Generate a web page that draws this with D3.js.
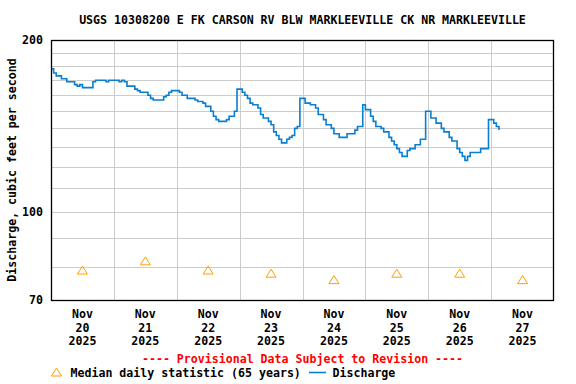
<!DOCTYPE html>
<html>
<head>
<meta charset="utf-8">
<script src="https://cdn.jsdelivr.net/npm/d3@7"></script>
<style>
  body { margin: 0; background: #fff; }
  svg text { font-family: "DejaVu Sans Mono", monospace; font-weight: bold; font-size: 11.6px; }
</style>
</head>
<body>
<svg id="chart" width="576" height="384"></svg>
<script>
//chart data
const TITLE = "USGS 10308200 E FK CARSON RV BLW MARKLEEVILLE CK NR MARKLEEVILLE"
const dayLabels = ["20", "21", "22", "23", "24", "25", "26", "27"]
const yTickValues = [70, 100, 200]
const yGridValues = [80, 90, 100, 110, 120, 130, 140, 150, 160, 170, 180, 190]

//median daily statistic, one per day (noon)
const medianDays = ["2025-11-20", "2025-11-21", "2025-11-22", "2025-11-23", "2025-11-24", "2025-11-25", "2025-11-26", "2025-11-27"]
const medianValues = [79, 82, 79, 78, 76, 78, 78, 76]

//discharge, hourly readings from Nov 20 00:00
const dischargeStart = "2025-11-20T00:00"
const dischargeValues = [
  178, 175, 173, 173, 171, 171, 169, 169, 169, 167, 166, 167,
  165, 165, 165, 165, 169, 170, 170, 170, 170, 169, 170, 170,
  170, 170, 169, 170, 169, 166, 166, 166, 164, 163, 162, 162,
  162, 160, 158, 157, 157, 157, 157, 159, 160, 162, 163, 163,
  163, 162, 160, 160, 158, 158, 158, 157, 156, 156, 155, 153,
  153, 150, 147, 145, 144, 144, 144, 145, 147, 147, 150, 164,
  164, 162, 160, 158, 155, 154, 154, 152, 148, 146, 146, 144,
  142, 138, 136, 134, 132, 132, 134, 135, 136, 140, 141, 158,
  158, 155, 155, 154, 154, 152, 148, 148, 145, 142, 142, 140,
  137, 137, 135, 135, 135, 137, 137, 137, 139, 141, 141, 154,
  151, 151, 147, 144, 141, 141, 140, 138, 138, 135, 133, 131,
  129, 127, 125, 125, 128, 129, 129, 131, 131, 134, 134, 150,
  150, 146, 146, 143, 143, 140, 138, 138, 135, 133, 133, 129,
  127, 125, 123, 125, 127, 127, 127, 127, 129, 129, 129, 145,
  145, 143, 141, 139
]

const parseTime = d3.utcParse("%Y-%m-%dT%H:%M")
const parseDay = d3.utcParse("%Y-%m-%d")

const margin = {left: 51, right: 22, top: 40, bottom: 84}
const W = 576, H = 384
const plotW = W - margin.left - margin.right
const plotH = H - margin.top - margin.bottom

const svg = d3.select("#chart")

const x = d3.scaleUtc()
  .domain([parseDay("2025-11-20"), parseDay("2025-11-28")])
  .range([margin.left, margin.left + plotW])

const y = d3.scaleLog()
  .domain([70, 200])
  .range([margin.top + plotH, margin.top])

//build discharge points
const t0 = parseTime(dischargeStart)
const discharge = dischargeValues.map((v, i) => ({t: d3.utcHour.offset(t0, i), v: v}))
const medians = medianDays.map((d, i) => ({t: d3.utcHour.offset(parseDay(d), 12), v: medianValues[i]}))

//title
svg.append("text").attr("x", margin.left + plotW / 2).attr("y", 24)
  .attr("text-anchor", "middle").text(TITLE)

//grid
const grid = svg.append("g").attr("stroke", "#cccccc").attr("stroke-width", 1)
grid.selectAll("line.h").data(yGridValues).enter().append("line")
  .attr("x1", margin.left).attr("x2", margin.left + plotW)
  .attr("y1", d => Math.round(y(d)) + 0.5).attr("y2", d => Math.round(y(d)) + 0.5)
grid.selectAll("line.v").data(x.ticks(d3.utcDay.every(1)).slice(1, -1)).enter().append("line")
  .attr("x1", d => Math.round(x(d)) + 0.5).attr("x2", d => Math.round(x(d)) + 0.5)
  .attr("y1", margin.top).attr("y2", margin.top + plotH)

//discharge line
const line = d3.line().x(d => x(d.t)).y(d => y(d.v)).curve(d3.curveStepAfter)
svg.append("path").datum(discharge)
  .attr("fill", "none").attr("stroke", "#0a7fd0").attr("stroke-width", 1.6)
  .attr("d", line)

//median triangles
const tri = "M-5,4L0,-4L5,4Z"
svg.selectAll("path.med").data(medians).enter().append("path")
  .attr("class", "med")
  .attr("transform", d => `translate(${x(d.t)},${y(d.v)})`)
  .attr("d", tri).attr("fill", "none").attr("stroke", "#ffa000").attr("stroke-width", 1)

//frame
svg.append("rect").attr("x", margin.left + 0.5).attr("y", margin.top + 0.5)
  .attr("width", plotW - 1).attr("height", plotH)
  .attr("fill", "none").attr("stroke", "#000").attr("stroke-width", 1.3)

//y labels
svg.selectAll("text.ytick").data(yTickValues).enter().append("text")
  .attr("x", 43).attr("y", d => y(d) + 4)
  .attr("text-anchor", "end").text(d => d)

svg.append("text").attr("transform", `translate(16,${margin.top + plotH / 2}) rotate(-90)`)
  .attr("text-anchor", "middle").text("Discharge, cubic feet per second")

//x labels
const xl = svg.selectAll("g.xlab").data(dayLabels).enter().append("g")
  .attr("transform", (d, i) => `translate(${x(d3.utcHour.offset(parseDay(medianDays[i]), 12))},0)`)
xl.append("text").attr("y", 318).attr("text-anchor", "middle").text("Nov")
xl.append("text").attr("y", 332).attr("text-anchor", "middle").text(d => d)
xl.append("text").attr("y", 345).attr("text-anchor", "middle").text("2025")

//provisional note
svg.append("text").attr("x", margin.left + plotW / 2).attr("y", 363)
  .attr("text-anchor", "middle").attr("fill", "#ff0000")
  .text("---- Provisional Data Subject to Revision ----")

//legend
svg.append("path").attr("transform", "translate(56.5,372)").attr("d", tri)
  .attr("fill", "none").attr("stroke", "#ffa000")
svg.append("text").attr("x", 70.5).attr("y", 377).text("Median daily statistic (65 years)")
svg.append("line").attr("x1", 309).attr("x2", 326).attr("y1", 372.5).attr("y2", 372.5)
  .attr("stroke", "#0a7fd0").attr("stroke-width", 1.6)
svg.append("text").attr("x", 332.5).attr("y", 377).text("Discharge")
</script>
</body>
</html>
